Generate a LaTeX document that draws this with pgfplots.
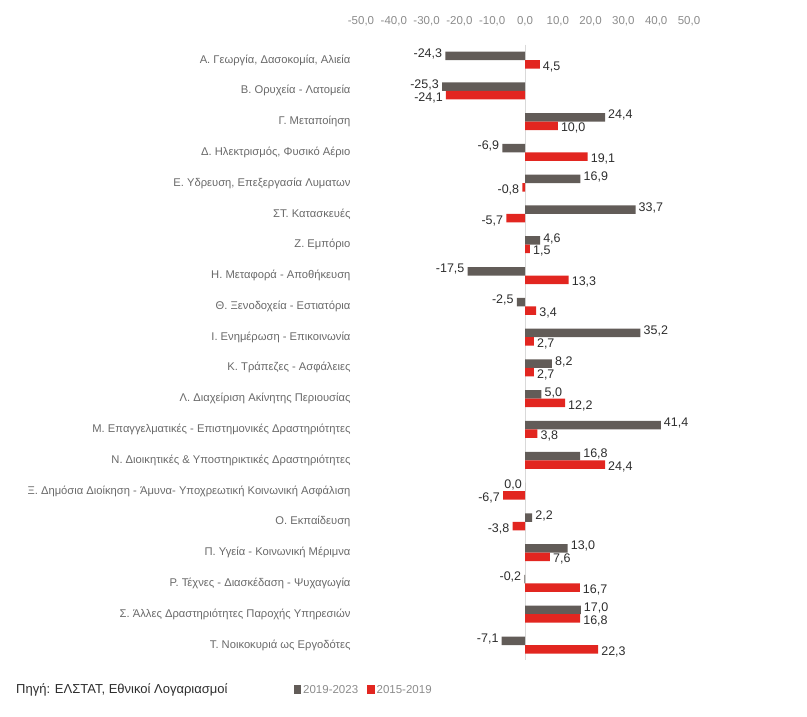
\documentclass[border=0pt]{standalone}
\usepackage{pgfplots}
\pgfplotsset{compat=1.18}
\usepackage{fontspec}
\setmainfont{Liberation Sans}
\definecolor{barGray}{RGB}{98,92,88}
\definecolor{barRed}{RGB}{226,38,32}
\definecolor{labGray}{RGB}{105,105,105}
\definecolor{tickGray}{RGB}{140,140,140}
\definecolor{valText}{RGB}{45,45,45}
\begin{document}
\begin{tikzpicture}
\path[use as bounding box] (0,0) rectangle (807pt,716pt);
\begin{axis}[
  at={(361pt,55.6pt)}, anchor=south west,
  scale only axis, width=328pt, height=615.8pt,
  xbar, bar width=8.5pt,
  xmin=-50, xmax=50,
  ymin=-0.5, ymax=19.5, y dir=reverse,
  xtick={-50,-40,...,50},
  ytick={0,...,19},
  yticklabels={
    {Α. Γεωργία, Δασοκομία, Αλιεία},
    {Β. Ορυχεία - Λατομεία},
    {Γ. Μεταποίηση},
    {Δ. Ηλεκτρισμός, Φυσικό Αέριο},
    {Ε. Υδρευση, Επεξεργασία Λυματων},
    {ΣΤ. Κατασκευές},
    {Ζ. Εμπόριο},
    {Η. Μεταφορά - Αποθήκευση},
    {Θ. Ξενοδοχεία - Εστιατόρια},
    {Ι. Ενημέρωση - Επικοινωνία},
    {Κ. Τράπεζες - Ασφάλειες},
    {Λ. Διαχείριση Ακίνητης Περιουσίας},
    {Μ. Επαγγελματικές - Επιστημονικές Δραστηριότητες},
    {Ν. Διοικητικές \& Υποστηρικτικές Δραστηριότητες},
    {Ξ. Δημόσια Διοίκηση - Άμυνα- Υποχρεωτική Κοινωνική Ασφάλιση},
    {Ο. Εκπαίδευση},
    {Π. Υγεία - Κοινωνική Μέριμνα},
    {Ρ. Τέχνες - Διασκέδαση - Ψυχαγωγία},
    {Σ. Άλλες Δραστηριότητες Παροχής Υπηρεσιών},
    {Τ. Νοικοκυριά ως Εργοδότες}},
  axis line style={draw=none},
  major tick length=0pt,
  xticklabel pos=upper,
  xticklabel style={font=\fontsize{11.5}{13}\selectfont, text=tickGray, yshift=15pt},
  yticklabel style={font=\fontsize{11.2}{13}\selectfont, text=labGray, xshift=-7pt},
  extra x ticks={0}, extra x tick labels={},
  extra x tick style={grid=major, major grid style={draw=gray!30, line width=0.8pt}},
  /pgf/number format/.cd, fixed, fixed zerofill, precision=1, use comma, 1000 sep={},
  assume math mode=true, /pgfplots/.cd,
  nodes near coords,
  every node near coord/.append style={font=\fontsize{12.5}{14}\selectfont, text=valText,
    inner xsep=3pt, inner ysep=0.5pt},
  legend columns=2,
  legend style={draw=none, fill=none, at={(axis description cs:-0.215,-0.048)}, anchor=west,
    font=\fontsize{11.5}{13}\selectfont, text=tickGray,
    /tikz/every even column/.append style={column sep=7pt},
    /tikz/every odd column/.append style={inner sep=1pt}},
  legend image code/.code={\fill[#1,draw=none] (0pt,-4.5pt) rectangle (7.5pt,4.5pt);},
]
% 2019-2023
\addplot+[fill=barGray, draw=none, bar shift=4.25pt,
  every node near coord/.append style={yshift=2pt},
  coordinate style/.condition={\coordindex==14}{anchor=east}] coordinates {
  (-24.3,0) (-25.3,1) (24.4,2) (-6.9,3) (16.9,4) (33.7,5) (4.6,6) (-17.5,7)
  (-2.5,8) (35.2,9) (8.2,10) (5.0,11) (41.4,12) (16.8,13) (0.0,14) (2.2,15)
  (13.0,16) (-0.2,17) (17.0,18) (-7.1,19)};
% 2015-2019
\addplot+[fill=barRed, draw=none, bar shift=-4.25pt,
  every node near coord/.append style={yshift=-2.5pt}] coordinates {
  (4.5,0) (-24.1,1) (10.0,2) (19.1,3) (-0.8,4) (-5.7,5) (1.5,6) (13.3,7)
  (3.4,8) (2.7,9) (2.7,10) (12.2,11) (3.8,12) (24.4,13) (-6.7,14) (-3.8,15)
  (7.6,16) (16.7,17) (16.8,18) (22.3,19)};
\legend{2019-2023, 2015-2019}
\end{axis}
\node[anchor=west, inner sep=0pt, text=valText, font=\fontsize{13}{15}\selectfont]
  at (16pt,26pt) {Πηγή: ΕΛΣΤΑΤ, Εθνικοί Λογαριασμοί};
\end{tikzpicture}
\end{document}
